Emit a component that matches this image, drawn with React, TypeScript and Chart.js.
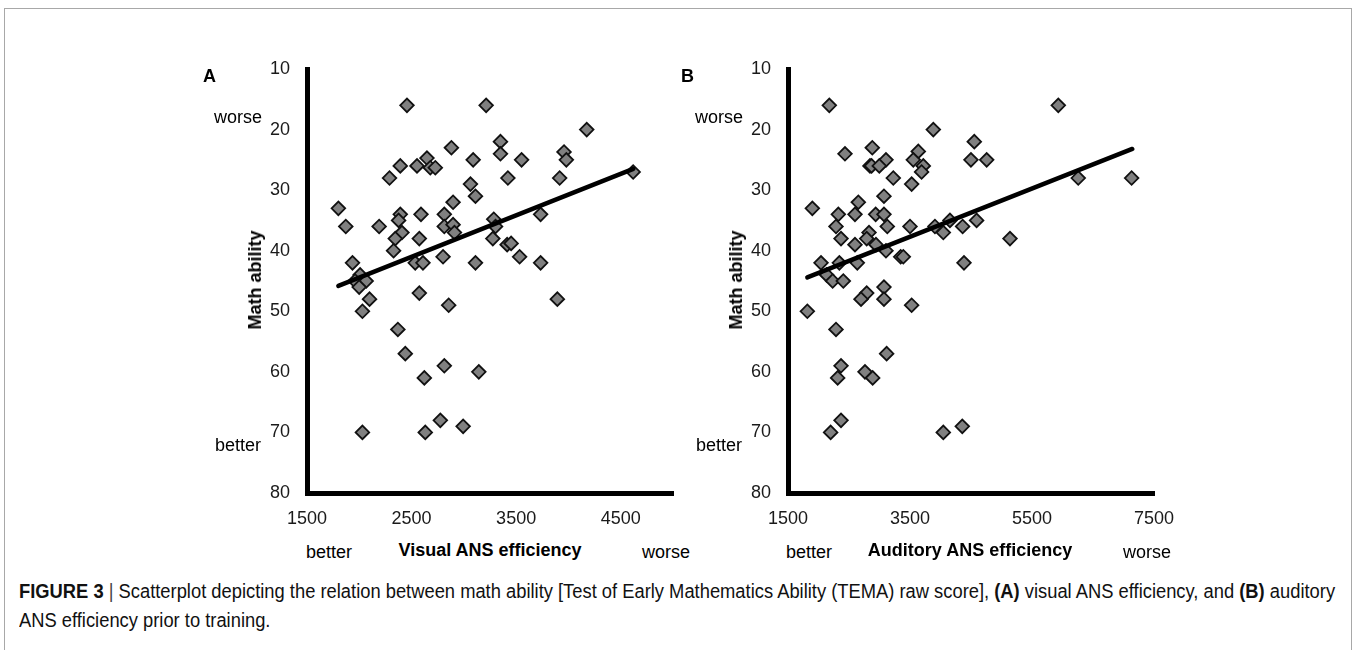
import React, { useEffect, useLayoutEffect, useRef } from 'react';
import { Chart, registerables } from 'chart.js';
Chart.register(...registerables);

// Panel A: visual ANS efficiency vs math ability
const visualX = [2456, 3213, 4175, 3350, 2881, 3350, 3958, 3980, 3552, 3089, 2647, 2392, 2552, 2679, 2727, 2289, 3421, 3916, 4619, 3063, 3111, 2897, 1800, 2392, 2590, 2813, 3734, 2376, 3286, 1871, 2190, 2813, 2897, 3303, 2408, 2910, 2344, 2574, 3277, 3414, 3452, 2328, 2801, 3533, 1935, 2535, 2609, 3111, 3734, 2008, 1960, 2066, 1999, 2574, 2098, 3894, 2855, 2030, 2369, 2440, 2813, 2622, 3143, 2030, 2631, 2775, 2993];
const visualY = [16, 16, 20, 22, 23, 24, 23.7, 25, 25, 25, 24.7, 26, 26, 26.3, 26.3, 28, 28, 28, 27, 29, 31, 32, 33, 34, 34, 34, 34, 35, 34.8, 36, 36, 36, 35.7, 36, 37, 37, 38, 38, 38, 39, 38.8, 40, 41, 41, 42, 42, 42, 42, 42, 44, 45, 45, 46, 47, 48, 48, 49, 50, 53, 57, 59, 61, 60, 70, 70, 68, 69];

// Panel B: auditory ANS efficiency vs math ability
const auditoryX = [2177, 5931, 3882, 4554, 2882, 2434, 3636, 3106, 3554, 4499, 4757, 2844, 2870, 2997, 3718, 3690, 3226, 3527, 6258, 7133, 3073, 2653, 1899, 2325, 2598, 2937, 3073, 4155, 4592, 2287, 3128, 3500, 3909, 4363, 2828, 4046, 2369, 2790, 5139, 2598, 2942, 3106, 3347, 3390, 2041, 2342, 2636, 4385, 2134, 2232, 2407, 3073, 2790, 2697, 3073, 3527, 1817, 2287, 3117, 2369, 2762, 2314, 2888, 2199, 2369, 4046, 4357];
const auditoryY = [16, 16, 20, 22, 23, 24, 23.6, 25, 25, 25, 25, 26, 26, 26, 26, 27, 28, 29, 28, 28, 31, 32, 33, 34, 34, 34, 34, 35, 35, 36, 36, 36, 36, 36, 37, 37, 38, 38, 38, 39, 39, 40, 41, 41, 42, 42, 42, 42, 44, 45, 45, 46, 47, 48, 48, 49, 50, 53, 57, 59, 60, 61, 61, 70, 68, 70, 69];

// Trend lines (end points)
const trendAX = [1800, 4620];
const trendAY = [45.8, 26.5];
const trendBX = [1817, 7144];
const trendBY = [44.4, 23.2];

// Ticks
const yTicks = [10, 20, 30, 40, 50, 60, 70, 80];
const xTicksA = [1500, 2500, 3500, 4500];
const xTicksB = [1500, 3500, 5500, 7500];

const FONT = "'Liberation Sans', Arial, sans-serif";

type PanelProps = {
  xs: number[]; ys: number[]; tx: number[]; ty: number[];
  xMin: number; xMax: number; xTicks: number[];
  left: number; top: number; width: number; height: number; padRight: number;
};

function Panel(p: PanelProps) {
  const ref = useRef<HTMLCanvasElement | null>(null);
  useEffect(() => {
    if (!ref.current) return;
    const pts = p.xs.map((x, i) => ({ x, y: p.ys[i] }));
    const trend = p.tx.map((x, i) => ({ x, y: p.ty[i] }));
    const tickFont = { family: FONT, size: 18 };
    const zeroPad = (s: any) => { s.paddingLeft = 0; s.paddingRight = 0; s.paddingTop = 0; s.paddingBottom = 0; };
    const chart = new Chart(ref.current, {
      type: 'scatter',
      data: {
        datasets: [
          {
            data: trend, showLine: true, borderColor: '#000', borderWidth: 4.5,
            pointRadius: 0, borderCapStyle: 'round', order: 0,
          } as any,
          {
            data: pts, pointStyle: 'rectRot', pointRadius: 6.8,
            backgroundColor: '#808080', borderColor: '#111', borderWidth: 1.8, order: 1,
          } as any,
        ],
      },
      options: {
        animation: false, responsive: false, maintainAspectRatio: false,
        layout: { padding: { top: 29, right: p.padRight, left: 0, bottom: 0 } },
        plugins: { legend: { display: false }, tooltip: { enabled: false } },
        scales: {
          x: {
            type: 'linear', min: p.xMin, max: p.xMax,
            grid: { display: false, drawTicks: false },
            border: { display: true, color: '#000', width: 5 },
            ticks: { font: tickFont, color: '#1a1a1a', padding: 15, maxRotation: 0, autoSkip: false, callback: (v: any) => String(v) },
            afterBuildTicks: (s: any) => { s.ticks = p.xTicks.map((v) => ({ value: v })); },
            afterFit: (s: any) => { s.height = 47; zeroPad(s); },
          },
          y: {
            type: 'linear', reverse: true, min: 10, max: 80,
            grid: { display: false, drawTicks: false },
            border: { display: true, color: '#000', width: 5 },
            ticks: { font: tickFont, color: '#1a1a1a', padding: 17, autoSkip: false, callback: (v: any) => String(v) },
            afterBuildTicks: (s: any) => { s.ticks = yTicks.map((v) => ({ value: v })); },
            afterFit: (s: any) => { s.width = 117; zeroPad(s); },
          },
        },
      } as any,
    });
    return () => chart.destroy();
  }, []);
  return (
    <canvas
      ref={ref}
      width={p.width}
      height={p.height}
      style={{ position: 'absolute', left: p.left, top: p.top, width: p.width, height: p.height }}
    />
  );
}

type TxtProps = { x: number; base: number; text: React.ReactNode; size?: number; bold?: boolean; align?: 'left' | 'center' };
function Txt({ x, base, text, size = 18, bold = false, align = 'center' }: TxtProps) {
  return (
    <div
      style={{
        position: 'absolute', left: x, top: base - 0.8465 * size, fontFamily: FONT, fontSize: size,
        lineHeight: `${size}px`, fontWeight: bold ? 'bold' : 'normal', whiteSpace: 'nowrap', color: '#000',
        transform: align === 'center' ? 'translateX(-50%)' : undefined,
      }}
    >
      {text}
    </div>
  );
}

function VTxt({ cx, cy, text }: { cx: number; cy: number; text: string }) {
  return (
    <div
      style={{
        position: 'absolute', left: cx, top: cy, fontFamily: FONT, fontSize: 18, lineHeight: '18px',
        fontWeight: 'bold', whiteSpace: 'nowrap', transform: 'translate(-50%, -50%) rotate(-90deg)', color: '#000',
      }}
    >
      {text}
    </div>
  );
}

const CAP_SIZE = 20;
const CAP_LINE1_WIDTH = 1316;

export default function App() {
  const capFont = "'Liberation Sans', Arial, sans-serif";
  const l1 = useRef<HTMLDivElement | null>(null);
  const l2 = useRef<HTMLDivElement | null>(null);
  useLayoutEffect(() => {
    if (!l1.current || !l2.current) return;
    const w = l1.current.scrollWidth;
    const k = CAP_LINE1_WIDTH / w;
    l1.current.style.transform = `scaleX(${k})`;
    l2.current.style.transform = `scaleX(${k})`;
  }, []);
  const capStyle = (base: number): React.CSSProperties => ({
    position: 'absolute', left: 19, top: base - 0.8465 * CAP_SIZE, fontFamily: capFont, fontSize: CAP_SIZE,
    lineHeight: `${CAP_SIZE}px`, whiteSpace: 'nowrap', color: '#111', transformOrigin: '0 0',
  });
  return (
    <div style={{ position: 'fixed', left: 0, top: 0, width: 1356, height: 650, overflow: 'hidden', background: '#fff' }}>
      <div style={{ position: 'absolute', left: 4, top: 8, width: 1346, height: 700, border: '1px solid #a8a8a8' }} />
      <Panel xs={visualX} ys={visualY} tx={trendAX} ty={trendAY} xMin={1500} xMax={5000} xTicks={xTicksA}
        left={190} top={40} width={500} height={500} padRight={17} />
      <Panel xs={auditoryX} ys={auditoryY} tx={trendBX} ty={trendBY} xMin={1500} xMax={7500} xTicks={xTicksB}
        left={671} top={40} width={508} height={500} padRight={25} />

      <Txt x={203} base={82} text="A" bold align="left" />
      <Txt x={681} base={82} text="B" bold align="left" />

      <Txt x={238} base={123} text="worse" />
      <Txt x={238} base={451} text="better" />
      <Txt x={719} base={123} text="worse" />
      <Txt x={719} base={451} text="better" />

      <VTxt cx={255} cy={280} text="Math ability" />
      <VTxt cx={736} cy={280} text="Math ability" />

      <Txt x={329} base={558} text="better" />
      <Txt x={490} base={556} text="Visual ANS efficiency" bold />
      <Txt x={666} base={558} text="worse" />
      <Txt x={809} base={558} text="better" />
      <Txt x={970} base={556} text="Auditory ANS efficiency" bold />
      <Txt x={1147} base={558} text="worse" />

      <div ref={l1} style={capStyle(598)}>
        <b>FIGURE 3</b> <span style={{ color: '#444' }}>|</span> Scatterplot depicting the relation between math ability [Test of Early Mathematics Ability (TEMA) raw score], <b>(A)</b> visual ANS efficiency, and <b>(B)</b> auditory
      </div>
      <div ref={l2} style={capStyle(627)}>
        ANS efficiency prior to training.
      </div>
    </div>
  );
}
